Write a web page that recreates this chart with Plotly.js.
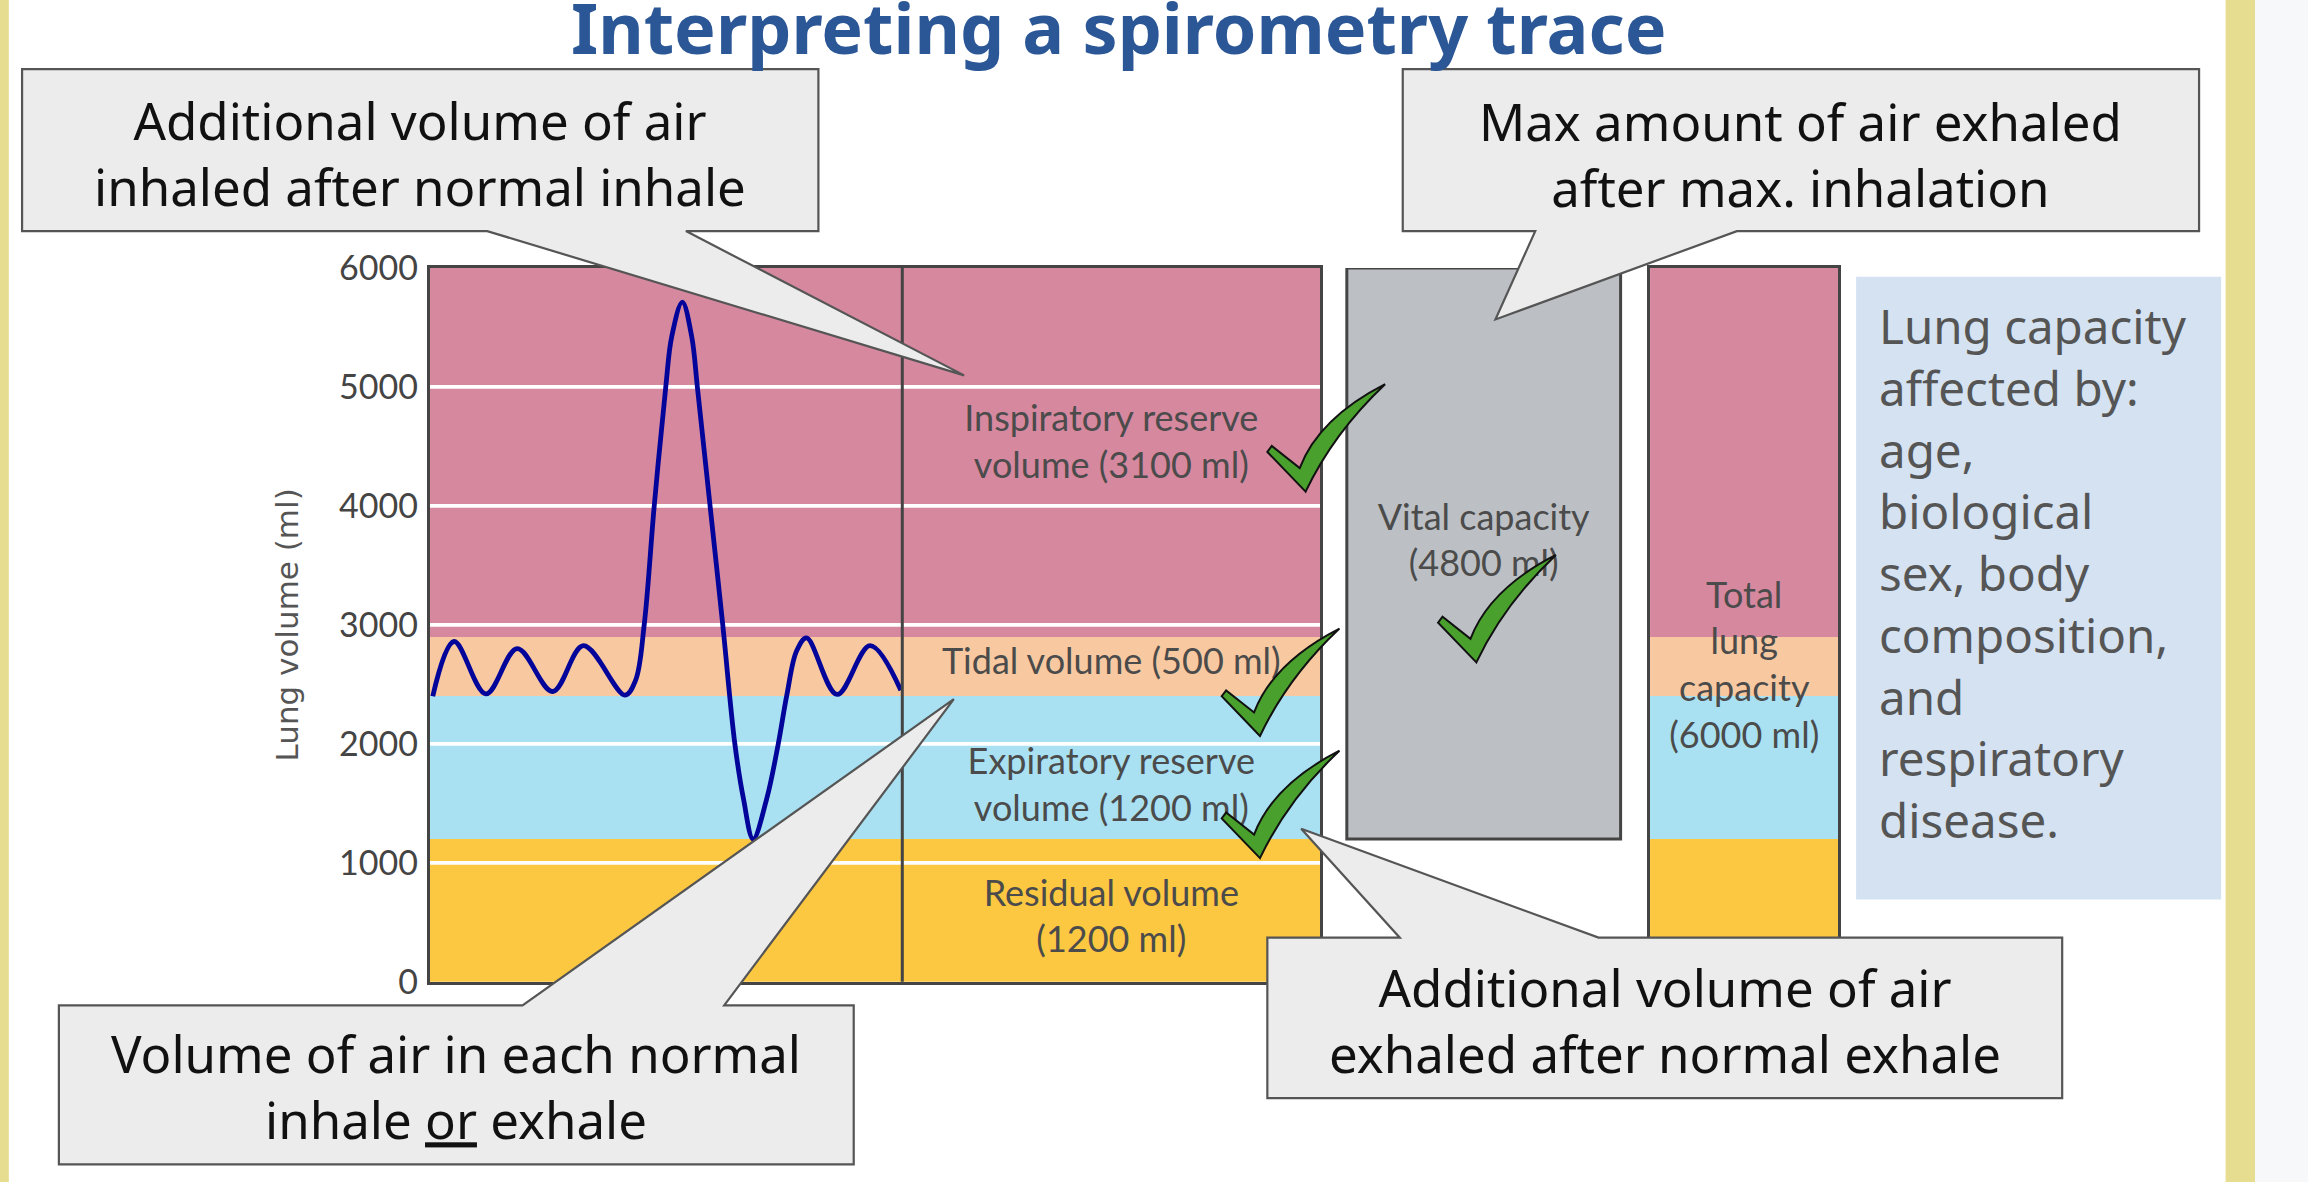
<!DOCTYPE html>
<html>
<head>
<meta charset="utf-8">
<script src="https://cdn.plot.ly/plotly-3.0.1.min.js"></script>
<style>
  html, body { margin: 0; padding: 0; background: #ffffff; }
  #chart { width: 2308px; height: 1182px; }
</style>
</head>
<body>
<div id="chart"></div>
<script>
// ---------------- data ----------------
const bandNames   = ['Residual volume', 'Expiratory reserve volume', 'Tidal volume', 'Inspiratory reserve volume'];
const bandVolumes = [1200, 1200, 500, 3100];           // ml
const bandColors  = ['#fcc741', '#a9e1f2', '#f8c9a0', '#d6889f'];
const bandLabels  = ['Residual volume<br>(1200 ml)', 'Expiratory reserve<br>volume (1200 ml)',
                     'Tidal volume (500 ml)', 'Inspiratory reserve<br>volume (3100 ml)'];
const bandLabelY  = [520, 1625, 2665, 4510];            // where each label sits (ml)

const vitalCapacity  = 4800;                            // ml
const vitalBase      = 1200;                            // residual volume under it
const vitalLabel     = 'Vital capacity<br>(4800 ml)';
const vitalLabelY    = 3680;

const totalCapacity  = 6000;
const totalLabel     = 'Total<br>lung<br>capacity<br>(6000 ml)';
const totalLabelY    = 2630;

// spirometry trace (time in arbitrary units, volume in ml)
const traceTime   = [0.1, 0.82, 1.90, 2.96, 4.16, 5.20, 6.61, 6.97, 7.26, 7.60, 7.99, 8.19, 8.55,
                     8.87, 9.06, 9.49, 9.92, 10.33, 10.62, 10.95, 11.41, 11.80, 12.09, 12.42, 12.76,
                     13.79, 14.91, 15.95];
const traceVolume = [2400, 2860, 2420, 2800, 2440, 2825, 2410, 2535, 3000, 4000, 5000, 5420, 5713,
                     5420, 5000, 4000, 3000, 2000, 1540, 1200, 1540, 2000, 2410, 2780, 2890,
                     2415, 2825, 2450];

const yTicks = [0, 1000, 2000, 3000, 4000, 5000, 6000];
const gridVals = [1000, 2000, 3000, 4000, 5000];
const traceEnd = 16;                                    // time at the divider

// ---------------- geometry helpers ----------------
const W = 1568, H = 803;                 // design frame (scaled to 2308x1182)
const px = x => x / W;
const py = y => 1 - y / H;

const R = traceEnd * (897 - 292) / (613 - 292);   // x range of main panel

// cumulative bases
const bases = [];
bandVolumes.reduce((acc, v, i) => { bases[i] = acc; return acc + v; }, 0);

const traces = [];
// main panel bands
bandVolumes.forEach((v, i) => {
  traces.push({
    type: 'bar', x: [R / 2], y: [v], base: [bases[i]], width: [R],
    marker: { color: bandColors[i], line: { width: 0 } },
    xaxis: 'x', yaxis: 'y', name: bandNames[i], hoverinfo: 'skip'
  });
});
// vital capacity column
traces.push({
  type: 'bar', x: [0.5], y: [vitalCapacity], base: [vitalBase], width: [1],
  marker: { color: '#bcc0c4', line: { width: 0 } },
  xaxis: 'x2', yaxis: 'y2', name: 'Vital capacity', hoverinfo: 'skip'
});
// total lung capacity column
bandVolumes.forEach((v, i) => {
  traces.push({
    type: 'bar', x: [0.5], y: [v], base: [bases[i]], width: [1],
    marker: { color: bandColors[i], line: { width: 0 } },
    xaxis: 'x3', yaxis: 'y3', name: bandNames[i], hoverinfo: 'skip'
  });
});
// white grid lines over the main panel
const gx = [], gy = [];
gridVals.forEach(v => { gx.push(0, R, null); gy.push(v, v, null); });
traces.push({
  type: 'scatter', mode: 'lines', x: gx, y: gy, xaxis: 'x', yaxis: 'y',
  line: { color: '#ffffff', width: 3.6 }, hoverinfo: 'skip', cliponaxis: true
});
// spirometry trace
traces.push({
  type: 'scatter', mode: 'lines', x: traceTime, y: traceVolume, xaxis: 'x', yaxis: 'y',
  line: { color: '#03049a', width: 4.8, shape: 'spline', smoothing: 1 }, hoverinfo: 'skip'
});
// band labels
const labelFont = { family: 'Lato, "Noto Sans", sans-serif', size: 36, color: '#4b4b4b' };
traces.push({
  type: 'scatter', mode: 'text', x: bandLabels.map(() => (traceEnd + R) / 2), y: bandLabelY,
  text: bandLabels, textposition: 'middle center', textfont: labelFont,
  xaxis: 'x', yaxis: 'y', hoverinfo: 'skip', cliponaxis: false
});
traces.push({
  type: 'scatter', mode: 'text', x: [0.5], y: [vitalLabelY], text: [vitalLabel],
  textposition: 'middle center', textfont: labelFont, xaxis: 'x2', yaxis: 'y2', hoverinfo: 'skip', cliponaxis: false
});
traces.push({
  type: 'scatter', mode: 'text', x: [0.5], y: [totalLabelY], text: [totalLabel],
  textposition: 'middle center', textfont: labelFont, xaxis: 'x3', yaxis: 'y3', hoverinfo: 'skip', cliponaxis: false
});

// ---------------- shapes ----------------
const shapes = [];
// page strips
shapes.push({ type: 'rect', xref: 'paper', yref: 'paper', x0: 0, x1: px(6), y0: 0, y1: 1, fillcolor: '#e7dd90', line: { width: 0 }, layer: 'below' });
shapes.push({ type: 'rect', xref: 'paper', yref: 'paper', x0: px(1512), x1: px(1532), y0: 0, y1: 1, fillcolor: '#e7dd90', line: { width: 0 }, layer: 'below' });
shapes.push({ type: 'rect', xref: 'paper', yref: 'paper', x0: px(1532), x1: 1, y0: 0, y1: 1, fillcolor: '#f7f8fa', line: { width: 0 }, layer: 'below' });
// info box
shapes.push({ type: 'rect', xref: 'paper', yref: 'paper', x0: px(1261), x1: px(1509), y0: py(611), y1: py(188), fillcolor: '#d4e2f1', line: { width: 0 }, layer: 'below' });
// divider between trace and labels
shapes.push({ type: 'line', xref: 'x', yref: 'y domain', x0: traceEnd, x1: traceEnd, y0: 0, y1: 1, line: { color: '#444444', width: 3 }, layer: 'above' });
// vital capacity outline
shapes.push({ type: 'rect', xref: 'x2 domain', yref: 'y2', x0: 0, x1: 1, y0: vitalBase, y1: vitalBase + vitalCapacity, line: { color: '#444444', width: 3 }, fillcolor: 'rgba(0,0,0,0)', layer: 'above' });

function pathFrom(points) {
  return 'M ' + points.map(p => px(p[0]) + ',' + py(p[1])).join(' L ') + ' Z';
}
const calloutStyle = { fillcolor: '#ececec', line: { color: '#555555', width: 2.2 }, layer: 'above', xref: 'paper', yref: 'paper', type: 'path' };
const callouts = [
  [[15, 47], [556, 47], [556, 157], [466, 157], [655, 255], [331, 157], [15, 157]],
  [[953, 47], [1494, 47], [1494, 157], [1180, 157], [1016, 217], [1043, 157], [953, 157]],
  [[40, 683], [355, 683], [648, 475], [492, 683], [580, 683], [580, 791], [40, 791]],
  [[861, 637], [951, 637], [884, 563], [1086, 637], [1401, 637], [1401, 746], [861, 746]]
];
callouts.forEach(c => shapes.push(Object.assign({ path: pathFrom(c) }, calloutStyle)));

// check marks
function checkPath(bx, by) {
  const P = (dx, dy) => px(bx + dx) + ',' + py(by + dy);
  return 'M ' + P(0, 0) + ' L ' + P(-26, -27) + ' L ' + P(-23, -31) + ' L ' + P(-4, -16) +
         ' Q ' + P(9, -50) + ' ' + P(54, -73) + ' Q ' + P(19, -40) + ' ' + P(0, 0) + ' Z';
}
[[887, 334], [856, 500], [856, 583], [1003, 450]].forEach(b => {
  shapes.push({ type: 'path', xref: 'paper', yref: 'paper', path: checkPath(b[0], b[1]),
    fillcolor: '#4aa02d', line: { color: '#111111', width: 2 }, layer: 'above' });
});

// ---------------- annotations ----------------
const calloutFont = { family: '"Noto Sans", sans-serif', size: 51, color: '#111111' };
const annotations = [
  { text: 'Interpreting a spirometry trace', x: px(760), y: 1 - 27 / 1182, xref: 'paper', yref: 'paper',
    xanchor: 'center', yanchor: 'middle', showarrow: false,
    font: { family: '"Noto Sans", sans-serif', size: 70, color: '#2b5797', weight: 700 } },
  { text: 'Additional volume of air<br>inhaled after normal inhale', x: px(285.5), y: py(104), xref: 'paper', yref: 'paper',
    xanchor: 'center', yanchor: 'middle', showarrow: false, font: calloutFont },
  { text: 'Max amount of air exhaled<br>after max. inhalation', x: px(1223.5), y: py(104.5), xref: 'paper', yref: 'paper',
    xanchor: 'center', yanchor: 'middle', showarrow: false, font: calloutFont },
  { text: 'Volume of air in each normal<br>inhale <u>or</u> exhale', x: px(310), y: py(738), xref: 'paper', yref: 'paper',
    xanchor: 'center', yanchor: 'middle', showarrow: false, font: calloutFont },
  { text: 'Additional volume of air<br>exhaled after normal exhale', x: px(1131), y: py(693), xref: 'paper', yref: 'paper',
    xanchor: 'center', yanchor: 'middle', showarrow: false, font: calloutFont },
  { text: 'Lung capacity<br>affected by:<br>age,<br>biological<br>sex, body<br>composition,<br>and<br>respiratory<br>disease.',
    x: px(1275), y: py(389), xref: 'paper', yref: 'paper', xanchor: 'left', yanchor: 'middle', align: 'left',
    showarrow: false, font: { family: '"Noto Sans", sans-serif', size: 47.5, color: '#555555' } }
];

// ---------------- layout ----------------
const yDomain = [py(667), py(182)];
const hiddenX = { showgrid: false, zeroline: false, showticklabels: false, ticks: '', fixedrange: true };
const layout = {
  width: 2308, height: 1182,
  margin: { l: 0, r: 0, t: 0, b: 0 },
  paper_bgcolor: '#ffffff', plot_bgcolor: 'rgba(0,0,0,0)',
  showlegend: false, barmode: 'overlay', bargap: 0,
  xaxis: Object.assign({ domain: [px(292), px(897)], range: [0, R], anchor: 'y',
    showline: true, mirror: true, linecolor: '#444444', linewidth: 3 }, hiddenX),
  yaxis: { domain: yDomain, range: [0, totalCapacity], anchor: 'x', tickvals: yTicks,
    ticktext: yTicks.map(String), ticks: '', ticklabelstandoff: 2,
    tickfont: { family: 'Lato, "Noto Sans", sans-serif', size: 34, color: '#444444' },
    showgrid: false, zeroline: false, showline: true, mirror: true, linecolor: '#444444', linewidth: 3,
    fixedrange: true, automargin: false,
    title: { text: 'Lung volume (ml)', standoff: 32, font: { family: '"DejaVu Sans", sans-serif', size: 31, color: '#555555' } } },
  xaxis2: Object.assign({ domain: [px(915), px(1101)], range: [0, 1], anchor: 'y2', showline: false }, hiddenX),
  yaxis2: Object.assign({ domain: yDomain, range: [0, totalCapacity], anchor: 'x2', showline: false }, hiddenX),
  xaxis3: Object.assign({ domain: [px(1121), px(1249)], range: [0, 1], anchor: 'y3',
    showline: true, mirror: true, linecolor: '#444444', linewidth: 3 }, hiddenX),
  yaxis3: Object.assign({ domain: yDomain, range: [0, totalCapacity], anchor: 'x3',
    showline: true, mirror: true, linecolor: '#444444', linewidth: 3 }, hiddenX),
  shapes: shapes,
  annotations: annotations
};

Plotly.newPlot('chart', traces, layout, { staticPlot: true, displayModeBar: false });
</script>
</body>
</html>
